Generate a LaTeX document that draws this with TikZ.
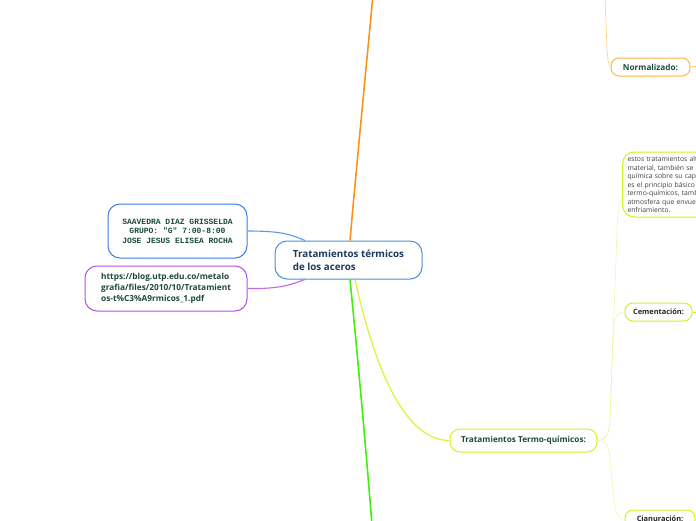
\documentclass[tikz,border=0pt]{standalone}
\usepackage{fontspec}
\setmainfont{Open Sans}
\newfontfamily\monofont{Liberation Mono}
\begin{document}
\begin{tikzpicture}[x=1pt,y=-1pt,
  box/.style={draw,rounded corners=12pt,line width=1pt,fill=white,inner sep=0pt},
  darktext/.style={text=TxtGreen,font=\bfseries\fontsize{8.2}{11}\selectfont},
  thin/.style={line width=0.6pt},
  branch/.style={line width=1.6pt}]
\definecolor{TxtGreen}{HTML}{1C4A3A}
\definecolor{TxtNavy}{HTML}{1B3A5C}
\definecolor{CBlue}{HTML}{4A90D9}
\definecolor{NBlue}{HTML}{3B7BF0}
\definecolor{NPurple}{HTML}{B44FE8}
\definecolor{LOrange}{HTML}{F7941D}
\definecolor{LOrangeL}{HTML}{FFB547}
\definecolor{LOrangeT}{HTML}{FFCF85}
\definecolor{LGreen}{HTML}{44EE11}
\definecolor{LYellow}{HTML}{E2F23A}
\definecolor{BYellow}{HTML}{D4F020}
\definecolor{TYellow}{HTML}{EEF7A8}
\useasboundingbox (0,0) rectangle (696,520);
\clip (0,0) rectangle (696,520);

% coordinates
\coordinate (orTop) at (373,-5);
\coordinate (grBot) at (372,525);
\coordinate (nTop) at (605,-5);
\coordinate (nRight) at (700,66);
\coordinate (cRight) at (700,312);

% nodes
\node[box,draw=CBlue,minimum width=147pt,minimum height=38pt,align=left,
  text=TxtNavy,font=\bfseries\fontsize{9.8}{13}\selectfont] (c) at (348.5,260)
  {Tratamientos térmicos\\de los aceros};
\node[box,draw=NBlue,minimum width=139pt,minimum height=54pt,align=center,
  text=TxtGreen,font=\monofont\bfseries\fontsize{8}{9.6}\selectfont] (n1) at (177.5,231)
  {SAAVEDRA DIAZ GRISSELDA\\ GRUPO: "G" 7:00-8:00\\JOSE JESUS ELISEA ROCHA};
\node[box,draw=NPurple,minimum width=162pt,minimum height=45pt,align=left,
  darktext,font=\bfseries\fontsize{8.3}{11}\selectfont] (n2) at (166,288.5)
  {https://blog.utp.edu.co/metalo\\grafia/files/2010/10/Tratamient\\os-t\%C3\%A9rmicos\_1.pdf};
\node[box,draw=BYellow,rounded corners=10pt,minimum width=147pt,minimum height=23pt,darktext] (tq) at (523.5,440.5)
  {Tratamientos Termo-químicos:};
\node[box,draw=LOrangeL,rounded corners=8pt,minimum width=79pt,minimum height=18pt,darktext] (nor) at (650.5,67)
  {Normalizado:};
\node[box,draw=BYellow,rounded corners=8pt,minimum width=67pt,minimum height=18pt,
  text=black!85,font=\bfseries\fontsize{7.4}{8}\selectfont] (cem) at (658.5,312)
  {Cementación:};
\node[box,draw=BYellow,rounded corners=8pt,minimum width=70pt,minimum height=18pt,
  text=black!85,font=\bfseries\fontsize{7.4}{8}\selectfont] (cia) at (660,519)
  {Cianuración:};
\node[box,draw=BYellow,rounded corners=12pt,anchor=west,minimum height=65pt,
  text width=200pt,inner xsep=5pt,align=left,text=black!75,
  font=\fontsize{6.8}{8.5}\selectfont] (desc) at (622,184.5)
  {estos tratamientos alteran la superficie del acero\\
   material, también se modifica la composición\\
   química sobre su capa superficial, este\\
   es el principio básico de los tratamientos\\
   termo-químicos, también se considera la\\
   atmosfera que envuelve al material durante el\\
   enfriamiento.};

% connectors
\draw[line width=1.1pt,color=NBlue!80] (n1.east) .. controls (280,231) and (290,234) .. (c.north west -| 305,0);
\draw[line width=1.1pt,color=NPurple!85] (n2.east) .. controls (280,289) and (290,285) .. (c.south west -| 305,0);
\draw[branch,color=LOrange] (c.north -| 350,0) .. controls (358,150) and (365,80) .. (orTop);
\draw[branch,color=LGreen] (c.south -| 350,0) .. controls (358,360) and (366,450) .. (grBot);
\draw[line width=1.3pt,color=LYellow] (c.south -| 355,0) .. controls (375,370) and (405,440.5) .. (tq.west);
\draw[thin,color=TYellow] (tq.east) .. controls (606,440) and (609,436) .. (610,420) -- (617,232) .. controls (618,212) and (619,200) .. (desc.west |- 0,198);
\draw[thin,color=TYellow] (tq.east) .. controls (606,440) and (609,436) .. (610,420) -- (613,332) .. controls (614,318) and (617,312) .. (cem.west);
\draw[thin,color=TYellow] (tq.east) .. controls (606,440) and (609,445) .. (610,460) -- (614,500) .. controls (615,512) and (618,519) .. (cia.west);
\draw[thin,color=LOrangeT] (nTop) -- (607,50) .. controls (608,62) and (609,67) .. (nor.west);
\draw[thin,color=LOrangeL] (nor.east) -- (nRight);
\draw[thin,color=BYellow] (cem.east) -- (cRight);
\end{tikzpicture}
\end{document}
